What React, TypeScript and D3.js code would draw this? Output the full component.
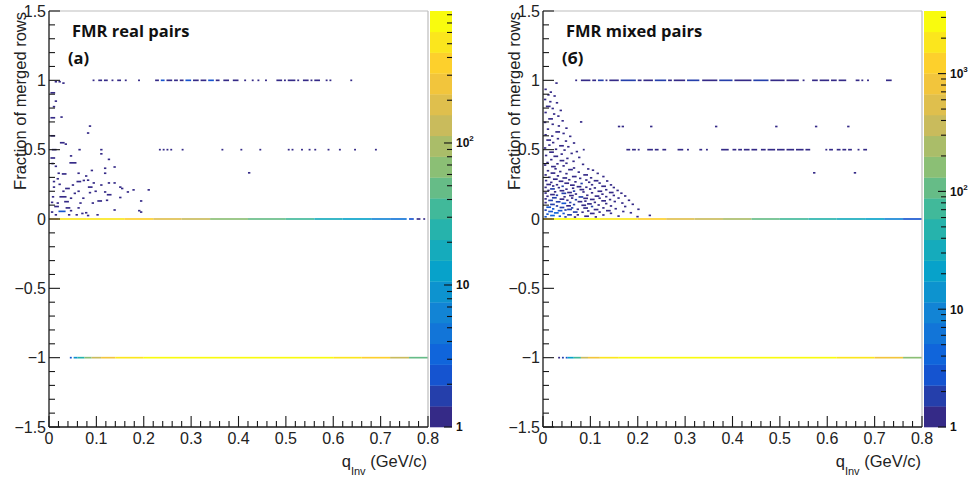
import React from "react";
import * as d3 from "d3";

// ---------- axis ticks ----------
const X_TICKS = [0, 0.1, 0.2, 0.3, 0.4, 0.5, 0.6, 0.7, 0.8];
const X_TICK_LABELS = ["0", "0.1", "0.2", "0.3", "0.4", "0.5", "0.6", "0.7", "0.8"];
const Y_TICKS = [-1.5, -1, -0.5, 0, 0.5, 1, 1.5];
const Y_TICK_LABELS = ["\u22121.5", "\u22121", "\u22120.5", "0", "0.5", "1", "1.5"];

// ---------- colour bar ----------
const LEFT_ZMAX = 850;
const RIGHT_ZMAX = 3400;
const LEFT_CB_EXP = [0, 1, 2];
const RIGHT_CB_EXP = [0, 1, 2, 3];

// kBird palette stops
const BIRD = [
  [0.2082, 0.1664, 0.5293],
  [0.0592, 0.3599, 0.8684],
  [0.078, 0.5041, 0.8385],
  [0.0232, 0.6419, 0.7914],
  [0.1802, 0.7178, 0.6425],
  [0.5301, 0.7492, 0.4662],
  [0.8186, 0.7328, 0.3499],
  [0.9956, 0.7862, 0.1968],
  [0.9764, 0.9832, 0.0539],
];

// ---------- data: left panel (real pairs) ----------
// scattered cells: [qInv, fraction, count, widthInBins?]
const LEFT_CELLS: number[][] = [
  [0.012, 0.99, 1], [0.02, 0.99, 1], [0.028, 0.98, 1],
  [0.003, 0.91, 1, 2], [0.012, 0.85, 1], [0.008, 0.81, 1],
  [0.003, 0.73, 1, 2], [0.024, 0.735, 1], [0.084, 0.67, 1], [0.08, 0.62, 1],
  [0.003, 0.6, 1, 2], [0.023, 0.55, 1, 2], [0.033, 0.54, 1],
  [0.006, 0.5, 1, 2], [0.062, 0.5, 1], [0.108, 0.5, 1],
  [0.044, 0.455, 1], [0.108, 0.47, 1], [0.003, 0.44, 1, 2],
  [0.005, 0.4, 1], [0.124, 0.43, 1], [0.043, 0.405, 1, 3],
  [0.012, 0.38, 1], [0.136, 0.375, 1], [0.116, 0.366, 1],
  [0.06, 0.33, 1], [0.076, 0.31, 1], [0.018, 0.33, 1], [0.027, 0.325, 1, 2], [0.088, 0.35, 1], [0.116, 0.33, 1],
  [0.08, 0.28, 1], [0.058, 0.27, 1, 2], [0.071, 0.278, 1],
  [0.048, 0.245, 1], [0.02, 0.25, 1], [0.008, 0.23, 1], [0.034, 0.22, 1, 2], [0.082, 0.23, 1, 2],
  [0.096, 0.2, 1], [0.108, 0.245, 1], [0.124, 0.26, 1], [0.136, 0.26, 1], [0.148, 0.23, 1],
  [0.06, 0.2, 1], [0.084, 0.19, 1], [0.116, 0.195, 1], [0.122, 0.175, 1, 2], [0.152, 0.22, 1],
  [0.164, 0.195, 1], [0.176, 0.21, 1], [0.208, 0.21, 1],
  [0.022, 0.16, 1, 3], [0.006, 0.16, 1], [0.044, 0.15, 1], [0.032, 0.125, 1, 2],
  [0.064, 0.115, 1], [0.09, 0.115, 1], [0.102, 0.13, 1, 2], [0.12, 0.135, 1], [0.148, 0.155, 1], [0.192, 0.13, 1],
  [0.011, 0.09, 1, 2], [0.035, 0.08, 1, 2], [0.06, 0.08, 1], [0.136, 0.065, 1],
  [0.02, 0.055, 2, 3], [0.044, 0.06, 1], [0.068, 0.04, 1], [0.076, 0.045, 1],
  [0.1, 0.03, 1], [0.188, 0.06, 1], [0.192, 0.05, 1], [0.012, 0.03, 1], [0.04, 0.03, 1],
  [0.056, 0.03, 1], [0.08, 0.025, 1], [0.004, 0.05, 1], [0.004, 0.12, 1], [0.008, 0.27, 1], [0.016, 0.29, 1],
  [0.052, 0.185, 1], [0.07, 0.15, 1], [0.028, 0.2, 1], [0.092, 0.26, 1], [0.016, 0.115, 1],
  [0.42, 0.333, 1],
];
// horizontal runs: [qInv start, qInv end, count]
const LEFT_ROW_1: number[][] = [
  [0.092, 0.096, 1], [0.104, 0.112, 1], [0.116, 0.124, 1], [0.132, 0.136, 1], [0.144, 0.152, 1],
  [0.16, 0.164, 1], [0.188, 0.192, 1], [0.224, 0.232, 1], [0.236, 0.244, 2], [0.248, 0.26, 1],
  [0.264, 0.272, 1], [0.276, 0.284, 1], [0.288, 0.3, 2], [0.304, 0.316, 1], [0.32, 0.332, 1],
  [0.336, 0.348, 2], [0.352, 0.36, 1], [0.368, 0.38, 1], [0.388, 0.4, 1], [0.412, 0.416, 1],
  [0.428, 0.432, 1], [0.44, 0.444, 1], [0.456, 0.46, 1], [0.48, 0.492, 1], [0.496, 0.5, 1],
  [0.504, 0.52, 1], [0.524, 0.528, 1], [0.536, 0.548, 1], [0.552, 0.556, 1], [0.56, 0.572, 1],
  [0.584, 0.588, 1], [0.592, 0.596, 1], [0.636, 0.64, 1],
];
const LEFT_ROW_HALF: number[][] = [
  [0.232, 0.236, 1], [0.24, 0.244, 1], [0.248, 0.252, 1], [0.256, 0.26, 1], [0.28, 0.284, 1],
  [0.364, 0.368, 1], [0.404, 0.408, 1], [0.444, 0.448, 1], [0.504, 0.508, 1], [0.512, 0.516, 1],
  [0.532, 0.536, 1], [0.548, 0.552, 1], [0.56, 0.564, 1], [0.588, 0.592, 1], [0.612, 0.616, 1],
  [0.644, 0.648, 1], [0.688, 0.692, 1],
];
const LEFT_ROW_0: number[][] = [
  [0.0, 0.02, 300], [0.02, 0.08, 500], [0.08, 0.16, 600], [0.16, 0.22, 420], [0.22, 0.28, 220],
  [0.28, 0.34, 120], [0.34, 0.42, 70], [0.42, 0.5, 45], [0.5, 0.56, 30], [0.56, 0.62, 20],
  [0.62, 0.68, 12], [0.68, 0.72, 7], [0.72, 0.755, 4], [0.76, 0.77, 2], [0.776, 0.784, 1], [0.79, 0.794, 1],
];
const LEFT_ROW_M1: number[][] = [
  [0.044, 0.048, 2], [0.052, 0.06, 8], [0.06, 0.075, 25], [0.075, 0.09, 60], [0.09, 0.11, 150],
  [0.11, 0.14, 300], [0.14, 0.2, 550], [0.2, 0.6, 800], [0.6, 0.66, 600], [0.66, 0.72, 350],
  [0.72, 0.76, 150], [0.76, 0.8, 50],
];

// ---------- data: right panel (mixed pairs) ----------
const RIGHT_CELLS: number[][] = [
  [0.026, 0.98, 1], [0.003, 0.935, 1], [0.014, 0.915, 1], [0.009, 0.895, 1], [0.022, 0.887, 1],
  [0.002, 0.862, 1], [0.013, 0.846, 1], [0.027, 0.838, 1], [0.006, 0.812, 1, 2], [0.018, 0.797, 1], [0.035, 0.783, 1],
  [0.003, 0.768, 1], [0.021, 0.757, 1], [0.03, 0.742, 1], [0.011, 0.722, 1, 2], [0.039, 0.708, 1], [0.002, 0.697, 1],
  [0.018, 0.683, 1], [0.031, 0.671, 1], [0.047, 0.655, 1], [0.008, 0.648, 1], [0.026, 0.628, 1, 2], [0.041, 0.617, 1],
  [0.003, 0.607, 1], [0.017, 0.598, 1], [0.055, 0.596, 1], [0.029, 0.579, 1], [0.007, 0.569, 1, 2], [0.046, 0.562, 1],
  [0.019, 0.551, 1], [0.063, 0.548, 1], [0.011, 0.533, 1], [0.034, 0.528, 1, 2], [0.051, 0.521, 1],
  [0.002, 0.512, 1], [0.025, 0.503, 1], [0.043, 0.497, 1], [0.069, 0.486, 1], [0.013, 0.482, 1, 2], [0.037, 0.468, 1],
  [0.058, 0.473, 1], [0.004, 0.458, 1], [0.022, 0.452, 1, 2], [0.049, 0.437, 1], [0.074, 0.444, 1],
  [0.015, 0.428, 1], [0.035, 0.421, 1, 2], [0.062, 0.416, 1], [0.007, 0.407, 1], [0.028, 0.398, 1], [0.047, 0.402, 1],
  [0.082, 0.394, 1], [0.002, 0.389, 1], [0.017, 0.378, 1, 2], [0.041, 0.383, 1], [0.063, 0.368, 1],
  [0.024, 0.362, 1], [0.053, 0.356, 1, 2], [0.093, 0.361, 1], [0.008, 0.348, 1], [0.034, 0.342, 1], [0.073, 0.338, 1],
  [0.103, 0.352, 1], [0.016, 0.331, 1, 2], [0.047, 0.327, 1], [0.085, 0.318, 1, 2], [0.113, 0.329, 1], [0.003, 0.318, 1],
  [0.029, 0.311, 1], [0.061, 0.306, 1, 2], [0.099, 0.297, 1], [0.011, 0.301, 1], [0.041, 0.296, 1, 2], [0.076, 0.293, 1],
  [0.125, 0.306, 1], [0.021, 0.287, 1, 2], [0.053, 0.283, 1], [0.089, 0.281, 1], [0.107, 0.276, 1, 2],
  [0.004, 0.277, 1], [0.033, 0.272, 1, 2], [0.066, 0.268, 1], [0.095, 0.265, 1], [0.133, 0.274, 1],
  [0.015, 0.264, 1], [0.045, 0.258, 1, 2], [0.079, 0.256, 2], [0.117, 0.259, 1], [0.007, 0.249, 1, 2],
  [0.027, 0.247, 1], [0.057, 0.244, 1, 2], [0.101, 0.247, 1], [0.141, 0.246, 1], [0.019, 0.238, 1], [0.039, 0.236, 2],
  [0.071, 0.233, 1, 2], [0.089, 0.229, 1], [0.123, 0.236, 1, 2], [0.003, 0.228, 1], [0.031, 0.226, 1],
  [0.061, 0.222, 1], [0.107, 0.224, 1], [0.147, 0.227, 1], [0.015, 0.217, 2, 2], [0.047, 0.215, 1],
  [0.077, 0.212, 1, 2], [0.097, 0.216, 1], [0.131, 0.211, 1], [0.009, 0.206, 1], [0.035, 0.204, 1, 2],
  [0.063, 0.201, 2], [0.115, 0.2, 1, 2], [0.155, 0.206, 1], [0.023, 0.196, 1], [0.051, 0.191, 1, 2],
  [0.083, 0.195, 1], [0.101, 0.189, 1], [0.139, 0.191, 1, 2], [0.003, 0.187, 1], [0.039, 0.185, 2, 2],
  [0.067, 0.18, 1], [0.123, 0.179, 1], [0.163, 0.186, 1], [0.015, 0.176, 1, 2], [0.027, 0.171, 2],
  [0.055, 0.169, 1, 2], [0.091, 0.171, 1], [0.109, 0.165, 1, 2], [0.147, 0.17, 1], [0.007, 0.164, 1],
  [0.043, 0.16, 1], [0.075, 0.159, 2, 2], [0.131, 0.161, 1], [0.171, 0.166, 1], [0.019, 0.153, 2, 2],
  [0.059, 0.151, 1], [0.085, 0.149, 1, 2], [0.117, 0.15, 1], [0.157, 0.151, 1], [0.003, 0.145, 1],
  [0.035, 0.143, 1, 2], [0.067, 0.139, 2], [0.099, 0.141, 1, 2], [0.139, 0.14, 1], [0.011, 0.134, 2, 2],
  [0.049, 0.135, 1], [0.087, 0.129, 1], [0.123, 0.131, 1, 2], [0.179, 0.135, 1], [0.027, 0.124, 2, 2],
  [0.055, 0.119, 2], [0.073, 0.125, 1, 2], [0.107, 0.12, 1], [0.149, 0.126, 1], [0.003, 0.118, 1],
  [0.039, 0.113, 3, 2], [0.093, 0.109, 1, 2], [0.131, 0.111, 1], [0.165, 0.115, 1], [0.015, 0.105, 2, 2],
  [0.063, 0.104, 2], [0.081, 0.099, 1, 2], [0.115, 0.101, 1], [0.187, 0.106, 1], [0.027, 0.094, 2],
  [0.049, 0.095, 1, 2], [0.101, 0.09, 2], [0.141, 0.094, 1], [0.171, 0.09, 1], [0.007, 0.085, 3, 2],
  [0.035, 0.083, 2, 2], [0.059, 0.08, 2], [0.085, 0.079, 1, 2], [0.125, 0.08, 1], [0.019, 0.073, 3],
  [0.051, 0.069, 2, 2], [0.071, 0.07, 1], [0.107, 0.068, 1, 2], [0.151, 0.074, 1], [0.199, 0.07, 1],
  [0.003, 0.064, 2], [0.031, 0.06, 3, 2], [0.045, 0.065, 2], [0.093, 0.058, 1], [0.133, 0.06, 1, 2],
  [0.011, 0.054, 3, 2], [0.063, 0.05, 2, 2], [0.081, 0.049, 1], [0.117, 0.05, 1], [0.167, 0.054, 1],
  [0.023, 0.044, 4, 2], [0.041, 0.04, 3], [0.099, 0.04, 1, 2], [0.141, 0.041, 1], [0.183, 0.045, 1],
  [0.007, 0.035, 3], [0.051, 0.03, 2, 2], [0.071, 0.03, 1], [0.125, 0.029, 1], [0.223, 0.026, 1],
  [0.015, 0.025, 4, 2], [0.033, 0.02, 3], [0.087, 0.02, 1, 2], [0.157, 0.021, 1], [0.197, 0.017, 1],
  [0.003, 0.016, 3], [0.045, 0.015, 2], [0.065, 0.014, 1], [0.109, 0.015, 1],
  [0.078, 0.7, 1], [0.158, 0.667, 1], [0.166, 0.667, 1], [0.226, 0.667, 1], [0.363, 0.667, 1],
  [0.49, 0.667, 1], [0.574, 0.667, 1], [0.642, 0.667, 1], [0.57, 0.333, 1], [0.656, 0.333, 1],
];
const RIGHT_ROW_1: number[][] = [
  [0.068, 0.072, 1], [0.08, 0.1, 1], [0.104, 0.112, 1], [0.116, 0.128, 2], [0.132, 0.136, 1],
  [0.14, 0.16, 1], [0.164, 0.196, 2], [0.2, 0.208, 1], [0.212, 0.232, 1], [0.236, 0.26, 2],
  [0.264, 0.272, 1], [0.276, 0.3, 1], [0.304, 0.33, 2], [0.336, 0.368, 1], [0.372, 0.4, 2],
  [0.404, 0.44, 1], [0.444, 0.476, 2], [0.48, 0.51, 1], [0.514, 0.54, 1], [0.548, 0.552, 1],
  [0.568, 0.58, 1], [0.584, 0.604, 1], [0.608, 0.62, 1], [0.624, 0.64, 1], [0.66, 0.668, 1],
  [0.672, 0.676, 1], [0.684, 0.688, 1], [0.724, 0.736, 1],
];
const RIGHT_ROW_HALF: number[][] = [
  [0.084, 0.088, 1], [0.176, 0.184, 1], [0.188, 0.196, 1], [0.2, 0.204, 1], [0.22, 0.232, 1],
  [0.236, 0.244, 1], [0.252, 0.26, 1], [0.284, 0.296, 1], [0.304, 0.308, 1], [0.33, 0.336, 1],
  [0.344, 0.348, 1], [0.376, 0.392, 1], [0.4, 0.408, 1], [0.412, 0.42, 1], [0.424, 0.436, 1],
  [0.44, 0.452, 1], [0.46, 0.47, 1], [0.474, 0.49, 1], [0.494, 0.51, 1], [0.514, 0.53, 1],
  [0.534, 0.55, 1], [0.554, 0.564, 1], [0.596, 0.6, 1], [0.604, 0.612, 1], [0.62, 0.628, 1],
  [0.632, 0.64, 1], [0.644, 0.652, 1], [0.664, 0.668, 1], [0.676, 0.684, 1],
];
const RIGHT_ROW_0: number[][] = [
  [0.0, 0.02, 1500], [0.02, 0.12, 3000], [0.12, 0.2, 2200], [0.2, 0.26, 1200], [0.26, 0.32, 600],
  [0.32, 0.38, 350], [0.38, 0.44, 200], [0.44, 0.5, 120], [0.5, 0.56, 80], [0.56, 0.62, 50],
  [0.62, 0.68, 30], [0.68, 0.72, 18], [0.72, 0.76, 8], [0.76, 0.8, 3],
];
const RIGHT_ROW_M1: number[][] = [
  [0.032, 0.036, 1], [0.04, 0.044, 2], [0.048, 0.052, 3], [0.052, 0.065, 20], [0.065, 0.08, 80],
  [0.08, 0.095, 300], [0.095, 0.12, 1000], [0.12, 0.16, 2000], [0.16, 0.62, 3300], [0.62, 0.7, 2000],
  [0.7, 0.76, 800], [0.76, 0.8, 150],
];

const XBIN = 0.005;
const YBIN = 0.012;
const NBANDS = 20;

function bird(t: number): string {
  const s = Math.max(0, Math.min(1, t)) * (BIRD.length - 1);
  const i = Math.min(BIRD.length - 2, Math.floor(s));
  const f = s - i;
  const c = BIRD[i].map((v, k) => Math.round((v + (BIRD[i + 1][k] - v) * f) * 255));
  return `rgb(${c[0]},${c[1]},${c[2]})`;
}

const PLOT = { x0: 49, x1: 428, yTop: 11, yBot: 427, cbX0: 430, cbX1: 452 };
const AXIS_FONT = "'Liberation Sans', Arial, sans-serif";
const TITLE_FONT = "'Open Sans', 'Noto Sans', sans-serif";

type PanelCfg = {
  dx: number;
  title: string;
  letter: string;
  zmax: number;
  exps: number[];
  cells: number[][];
  rows: { y: number; spans: number[][] }[];
};

function Panel({ cfg }: { cfg: PanelCfg }) {
  const xs = d3.scaleLinear().domain([0, 0.8]).range([PLOT.x0, PLOT.x1]);
  const ys = d3.scaleLinear().domain([-1.5, 1.5]).range([PLOT.yBot, PLOT.yTop]);
  const cb = d3.scaleLog().domain([1, cfg.zmax]).range([PLOT.yBot, PLOT.yTop]);
  const lz = Math.log10(cfg.zmax);
  const band = (c: number) => Math.max(0, Math.min(NBANDS - 1, Math.floor((Math.log10(c) / lz) * NBANDS)));
  const bandColor = (b: number) => bird(b / (NBANDS - 1));
  const colorOf = (c: number) => bandColor(band(c));

  const xMinor = d3.range(0, 0.8001, 0.02);
  const yMinor = d3.range(-1.5, 1.5001, 0.1);

  const cbTicks: { v: number; major: boolean }[] = [];
  for (let d = 0; d <= Math.floor(lz); d++) {
    for (let m = 1; m <= 9; m++) {
      const v = m * Math.pow(10, d);
      if (v <= cfg.zmax) cbTicks.push({ v, major: m === 1 });
    }
  }

  return (
    <g transform={`translate(${cfg.dx},0)`}>
      {cfg.rows.map((r, ri) =>
        r.spans.map((s, si) => (
          <rect
            key={`r${ri}-${si}`}
            x={xs(s[0])}
            width={Math.max(1.5, xs(s[1]) - xs(s[0]))}
            y={ys(r.y + YBIN / 2)}
            height={ys(r.y - YBIN / 2) - ys(r.y + YBIN / 2)}
            fill={colorOf(s[2])}
          />
        ))
      )}
      {cfg.cells.map((c, i) => (
        <rect
          key={`c${i}`}
          x={xs(c[0])}
          width={xs(c[0] + XBIN * (c[3] || 1)) - xs(c[0])}
          y={ys(c[1] + YBIN / 2)}
          height={ys(c[1] - YBIN / 2) - ys(c[1] + YBIN / 2)}
          fill={colorOf(c[2])}
        />
      ))}
      <line x1={PLOT.x0} x2={PLOT.x1} y1={PLOT.yTop} y2={PLOT.yTop} stroke="#bdbdbd" strokeWidth={1.2} />
      <line x1={PLOT.x1} x2={PLOT.x1} y1={PLOT.yTop} y2={PLOT.yBot} stroke="#bdbdbd" strokeWidth={1.2} />
      <line x1={PLOT.x0} x2={PLOT.x1} y1={PLOT.yBot} y2={PLOT.yBot} stroke="#1a1a1a" strokeWidth={1.3} />
      <line x1={PLOT.x0} x2={PLOT.x0} y1={PLOT.yTop} y2={PLOT.yBot} stroke="#1a1a1a" strokeWidth={1.3} />
      {xMinor.map((v, i) => {
        const major = i % 5 === 0;
        return (
          <line key={`xt${i}`} x1={xs(v)} x2={xs(v)} y1={PLOT.yBot} y2={PLOT.yBot - (major ? 11 : 6)} stroke="#1a1a1a" strokeWidth={1.1} />
        );
      })}
      {yMinor.map((v, i) => {
        const major = i % 5 === 0;
        return (
          <line key={`yt${i}`} x1={PLOT.x0} x2={PLOT.x0 + (major ? 11 : 6)} y1={ys(v)} y2={ys(v)} stroke="#1a1a1a" strokeWidth={1.1} />
        );
      })}
      {X_TICKS.map((v, i) => (
        <text key={`xl${i}`} x={xs(v)} y={444} textAnchor="middle" fontFamily={AXIS_FONT} fontSize={16} fill="#222">
          {X_TICK_LABELS[i]}
        </text>
      ))}
      {Y_TICKS.map((v, i) => (
        <text key={`yl${i}`} x={46} y={ys(v)} dy="0.36em" textAnchor="end" fontFamily={AXIS_FONT} fontSize={16} fill="#222">
          {Y_TICK_LABELS[i]}
        </text>
      ))}
      <text transform={`translate(26,12) rotate(-90)`} textAnchor="end" fontFamily={AXIS_FONT} fontSize={16.5} fill="#222">
        Fraction of merged rows
      </text>
      <text x={427} y={467} textAnchor="end" fontFamily={AXIS_FONT} fontSize={16.5} fill="#222">
        q
        <tspan fontSize={11} dy={8}>Inv</tspan>
        <tspan dy={-8}> (GeV/c)</tspan>
      </text>
      <text x={72} y={37} fontFamily={TITLE_FONT} fontWeight={700} fontSize={16.5} fill="#111">
        {cfg.title}
      </text>
      <text x={68} y={64} fontFamily={TITLE_FONT} fontWeight={700} fontSize={16.5} fill="#111">
        {cfg.letter}
      </text>
      {d3.range(NBANDS).map((b) => {
        const yTop = cb(Math.pow(10, ((b + 1) / NBANDS) * lz));
        const yB = cb(Math.pow(10, (b / NBANDS) * lz));
        return <rect key={`cb${b}`} x={PLOT.cbX0} width={PLOT.cbX1 - PLOT.cbX0} y={yTop} height={yB - yTop + 0.3} fill={bandColor(b)} />;
      })}
      {cbTicks.map((t, i) => (
        <line key={`cbt${i}`} x1={PLOT.cbX1} x2={PLOT.cbX1 - (t.major ? 8 : 5)} y1={cb(t.v)} y2={cb(t.v)} stroke="#111" strokeWidth={1.1} />
      ))}
      {cfg.exps.map((e) => (
        <text key={`cbl${e}`} x={PLOT.cbX1 + 4} y={cb(Math.pow(10, e))} dy="0.36em" fontFamily={AXIS_FONT} fontWeight={700} fontSize={12} fill="#111">
          {e === 0 ? "1" : "10"}
          {e >= 2 ? (
            <tspan fontSize={8} dy={-6}>
              {String(e)}
            </tspan>
          ) : null}
        </text>
      ))}
    </g>
  );
}

const PANELS: PanelCfg[] = [
  {
    dx: 0,
    title: "FMR real pairs",
    letter: "(a)",
    zmax: LEFT_ZMAX,
    exps: LEFT_CB_EXP,
    cells: LEFT_CELLS,
    rows: [
      { y: 1, spans: LEFT_ROW_1 },
      { y: 0.5, spans: LEFT_ROW_HALF },
      { y: 0, spans: LEFT_ROW_0 },
      { y: -1, spans: LEFT_ROW_M1 },
    ],
  },
  {
    dx: 494,
    title: "FMR mixed pairs",
    letter: "(\u0431)",
    zmax: RIGHT_ZMAX,
    exps: RIGHT_CB_EXP,
    cells: RIGHT_CELLS,
    rows: [
      { y: 1, spans: RIGHT_ROW_1 },
      { y: 0.5, spans: RIGHT_ROW_HALF },
      { y: 0, spans: RIGHT_ROW_0 },
      { y: -1, spans: RIGHT_ROW_M1 },
    ],
  },
];

export default function App() {
  return (
    <svg width={973} height={482} viewBox="0 0 973 482" style={{ position: "absolute", left: 0, top: 0, background: "#fff" }}>
      <rect x={0} y={0} width={973} height={482} fill="#fff" />
      {PANELS.map((p, i) => (
        <Panel key={i} cfg={p} />
      ))}
    </svg>
  );
}
